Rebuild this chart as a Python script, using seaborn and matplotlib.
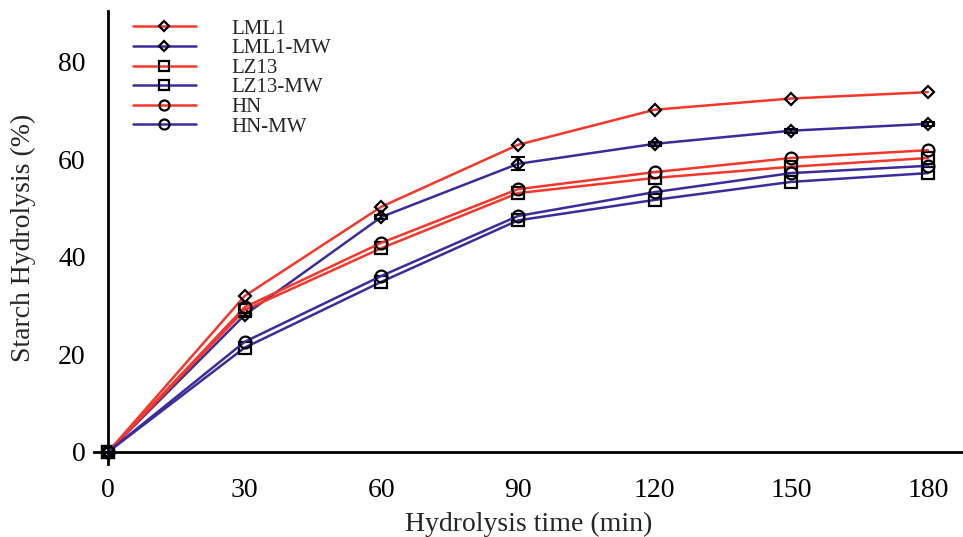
import matplotlib
matplotlib.use("Agg")
import matplotlib.pyplot as plt
import seaborn as sns
import pandas as pd

time_min = [0, 30, 60, 90, 120, 150, 180]

lml1 = [0, 32.0, 50.3, 63.0, 70.2, 72.5, 73.8]
lml1_mw = [0, 28.1, 48.2, 59.1, 63.2, 65.9, 67.3]
lz13 = [0, 29.1, 41.8, 53.1, 56.2, 58.5, 60.3]
lz13_mw = [0, 21.4, 34.9, 47.5, 51.7, 55.4, 57.2]
hn = [0, 29.7, 42.9, 53.9, 57.4, 60.3, 61.9]
hn_mw = [0, 22.6, 36.1, 48.4, 53.3, 57.2, 58.7]

lml1_mw_err = [0, 0.4, 0.5, 1.3, 0.4, 0.4, 0.4]

series_names = ["LML1", "LML1-MW", "LZ13", "LZ13-MW", "HN", "HN-MW"]
series_vals = [lml1, lml1_mw, lz13, lz13_mw, hn, hn_mw]

rows = []
for name, vals in zip(series_names, series_vals):
    for t, v in zip(time_min, vals):
        rows.append({"time": t, "value": v, "sample": name})
df = pd.DataFrame(rows)

red = "#f5362a"
blue = "#3b2c9c"
colors = {"LML1": red, "LML1-MW": blue, "LZ13": red, "LZ13-MW": blue, "HN": red, "HN-MW": blue}
markers = {"LML1": "D", "LML1-MW": "D", "LZ13": "s", "LZ13-MW": "s", "HN": "o", "HN-MW": "o"}
msize = {"D": 6.5, "s": 8.5, "o": 8.5}

sns.set_style("white")
plt.rcParams["font.family"] = ["Liberation Serif", "DejaVu Serif"]

fig = plt.figure(figsize=(9.63, 5.37), dpi=100)
ax = fig.add_axes([0.098, 0.1356, 0.901, 0.8444])

for name in series_names:
    m = markers[name]
    sns.lineplot(data=df[df["sample"] == name], x="time", y="value", ax=ax,
                 color=colors[name], lw=1.8, marker=m, markersize=msize[m],
                 markerfacecolor="none", markeredgecolor="black",
                 markeredgewidth=1.6, label=name, errorbar=None)

ax.errorbar(time_min, lml1_mw, yerr=lml1_mw_err, fmt="none", ecolor="black",
            elinewidth=1.5, capsize=5, capthick=1.5, zorder=5)

ax.set_xlim(-3, 187.5)
ax.set_ylim(-2.5, 90.5)
ax.spines["left"].set_position(("data", 0))
ax.spines["bottom"].set_position(("data", 0))
ax.spines["right"].set_visible(False)
ax.spines["top"].set_visible(False)
for s in ["left", "bottom"]:
    ax.spines[s].set_linewidth(2)
    ax.spines[s].set_color("black")

ax.set_xticks(time_min)
ax.set_yticks([0, 20, 40, 60, 80])
ax.tick_params(axis="both", direction="out", length=9, width=2, labelsize=20,
               colors="black")
ax.tick_params(axis="x", pad=10)
ax.tick_params(axis="y", pad=7)

ax.set_xlabel("Hydrolysis time (min)", fontsize=20)
ax.set_ylabel("Starch Hydrolysis (%)", fontsize=20)
ax.xaxis.set_label_coords(0.5, -0.105)
ax.yaxis.set_label_coords(-0.067, 0.5)

leg = ax.legend(loc="upper left", bbox_to_anchor=(0.035, 1.0), frameon=False,
                fontsize=15, handlelength=3.0, handletextpad=1.7,
                labelspacing=0.0, borderaxespad=0, markerscale=0.85)

plt.savefig("out.png", dpi=100)
plt.close()
